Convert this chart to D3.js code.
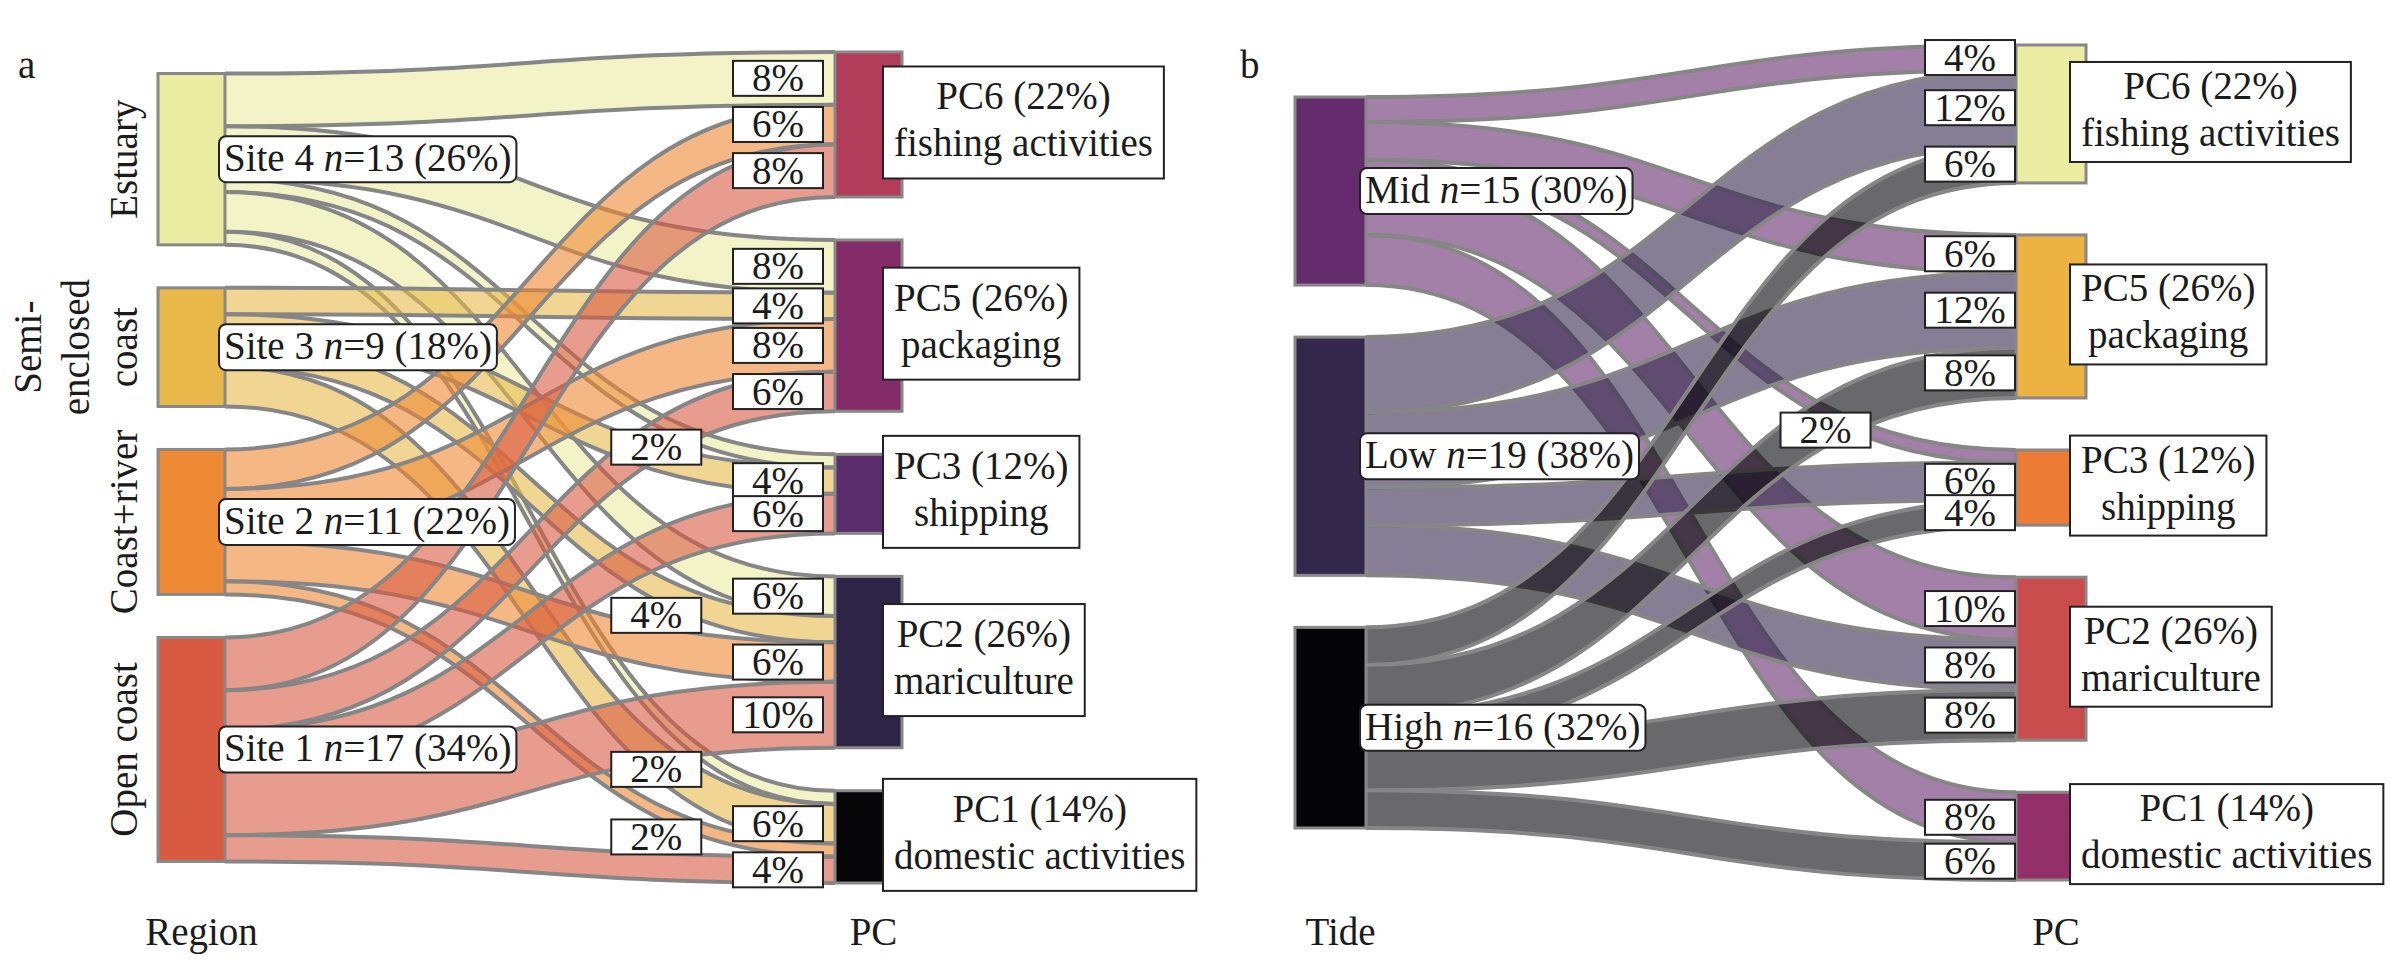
<!DOCTYPE html>
<html>
<head>
<meta charset="utf-8">
<script src="https://cdn.jsdelivr.net/npm/d3@7"></script>
<style>
    body { margin: 0; background: #fff; }
    svg text { font-family: "Liberation Serif", "DejaVu Serif", "Noto Serif", serif; font-size: 39px; fill: #1b1b1b; }
</style>
</head>
<body>
<script>
// ---- data (percent of all 50 samples) ----
const regionLines = [["Estuary"], ["Semi-", "enclosed", "coast"], ["Coast+river"], ["Open coast"]];
const siteNames = ["Site 4", "Site 3", "Site 2", "Site 1"];
const siteN = [13, 9, 11, 17];
const tideNames = ["Mid", "Low", "High"];
const tideN = [15, 19, 16];
const pcNames = ["PC6", "PC5", "PC3", "PC2", "PC1"];
const pcSources = ["fishing activities", "packaging", "shipping", "mariculture", "domestic activities"];

// rows = site (4,3,2,1), cols = PC6, PC5, PC3, PC2, PC1
const siteToPc = [
    [8, 8, 2, 6, 2],
    [0, 4, 4, 4, 6],
    [6, 8, 0, 6, 2],
    [8, 6, 6, 10, 4]
];
// rows = Mid, Low, High
const tideToPc = [
    [4, 6, 2, 10, 8],
    [12, 12, 6, 8, 0],
    [6, 8, 4, 8, 6]
];

const siteColors = ["#e9eca1", "#e8b94a", "#ee8934", "#d85a41"];
const pcColorsA = ["#b23d5b", "#842b6a", "#5b2d6c", "#2e2446", "#060508"];
const tideColors = ["#652c6d", "#33284c", "#050407"];
const pcColorsB = ["#ebeea2", "#ecb242", "#ec7b35", "#c94d4c", "#932f69"];

const W = 2390, H = 964;
const lineGap = 48;
const serif = "'Liberation Serif', 'DejaVu Serif', 'Noto Serif', serif";

var svg = d3.select("body").append("svg")
    .attr("width", W)
    .attr("height", H)
    .attr("font-family", serif)
    .attr("font-size", 39);

function drawPanel(p) {
    let g = svg.append("g");
    let y = d3.scaleLinear().domain([0, 100]).range([0, p.span]);

    let srcVals = p.matrix.map(r => d3.sum(r));
    let tgtVals = pcNames.map((_, j) => d3.sum(p.matrix, r => r[j]));

    // stack a column of nodes around the panel centre
    let stack = function (vals) {
        let cur = p.center - (d3.sum(vals, y) + p.pad * (vals.length - 1)) / 2;
        return vals.map((v, i) => {
            let n = {i: i, v: v, y0: cur, y1: cur + y(v)};
            cur = n.y1 + p.pad;
            return n;
        });
    };
    let L = stack(srcVals), R = stack(tgtVals);

    let links = [];
    p.matrix.forEach((row, i) => row.forEach((v, j) => {
        if (v > 0) links.push({s: i, t: j, v: v});
    }));
    L.forEach(n => {
        let c = n.y0;
        links.filter(l => l.s === n.i).forEach(l => { l.sy0 = c; c += y(l.v); l.sy1 = c; });
    });
    R.forEach(n => {
        let c = n.y0;
        links.filter(l => l.t === n.i).forEach(l => { l.ty0 = c; c += y(l.v); l.ty1 = c; });
    });

    let edge = d3.linkHorizontal();
    let band = function (l) {
        let top = edge({source: [p.lx1, l.sy0], target: [p.rx0, l.ty0]});
        let bottom = edge({source: [p.rx0, l.ty1], target: [p.lx1, l.sy1]}).replace(/^M[^C]*/, "");
        return top + "L" + p.rx0 + "," + l.ty1 + bottom + "Z";
    };

    // links
    let lg = g.selectAll(".link").data(links).enter().append("g").attr("class", "link");
    lg.append("path")
        .attr("d", band)
        .attr("fill", d => p.leftColors[d.s])
        .attr("fill-opacity", 0.6)
        .attr("stroke", "none");
    lg.append("path")
        .attr("d", d => edge({source: [p.lx1, d.sy0], target: [p.rx0, d.ty0]}))
        .attr("fill", "none").attr("stroke", "#868686").attr("stroke-width", 4);
    lg.append("path")
        .attr("d", d => edge({source: [p.lx1, d.sy1], target: [p.rx0, d.ty1]}))
        .attr("fill", "none").attr("stroke", "#868686").attr("stroke-width", 4);

    // nodes
    g.selectAll(".lnode").data(L).enter().append("rect")
        .attr("x", p.lx0).attr("y", d => d.y0)
        .attr("width", p.lx1 - p.lx0).attr("height", d => d.y1 - d.y0)
        .attr("fill", d => p.leftColors[d.i])
        .attr("stroke", "#888").attr("stroke-width", 3);
    g.selectAll(".rnode").data(R).enter().append("rect")
        .attr("x", p.rx0).attr("y", d => d.y0)
        .attr("width", p.rx1 - p.rx0).attr("height", d => d.y1 - d.y0)
        .attr("fill", d => p.rightColors[d.i])
        .attr("stroke", "#888").attr("stroke-width", 3);

    // link percentage boxes: thin links, or links squeezed on both sides, get moved out
    let boxH = 35, boxW = 90;
    R.forEach(n => {
        let inc = links.filter(l => l.t === n.i);
        inc.forEach(l => { l.yc = (l.ty0 + l.ty1) / 2; l.out = (l.ty1 - l.ty0) < boxH * 0.4; });
        let kept = inc.filter(l => !l.out);
        let hit = (a, b) => b && Math.abs(a.yc - b.yc) < boxH;
        kept.forEach((l, i) => {
            if (hit(l, kept[i - 1]) && hit(l, kept[i + 1])) l.out = true;
        });
    });
    links.forEach(l => {
        if (l.out) {
            let ysrc = (l.sy0 + l.sy1) / 2;
            l.bx = p.lx1 + 0.707 * (p.rx0 - p.lx1) - boxW / 2;
            l.by = l.yc - p.outLift * (l.yc - ysrc);
        } else {
            l.bx = p.rx0 - p.labelGap - boxW;
            l.by = l.yc;
        }
    });
    let lab = g.selectAll(".plab").data(links).enter().append("g");
    lab.append("rect")
        .attr("x", d => d.bx).attr("y", d => d.by - boxH / 2)
        .attr("width", boxW).attr("height", boxH)
        .attr("fill", "#fff").attr("stroke", "#222").attr("stroke-width", 2);
    lab.append("text")
        .attr("x", d => d.bx + boxW / 2).attr("y", d => d.by + 13)
        .attr("text-anchor", "middle")
        .attr("font-size", 38)
        .text(d => d.v + "%");

    // left node labels
    L.forEach(n => {
        let cy = (n.y0 + n.y1) / 2;
        let bg = g.append("g");
        let r = bg.append("rect")
            .attr("x", p.lx1 - 6).attr("y", cy - 23)
            .attr("height", 46).attr("rx", 7)
            .attr("fill", "#fff").attr("stroke", "#222").attr("stroke-width", 2);
        let t = bg.append("text").attr("x", p.lx1 - 1).attr("y", cy + 12);
        t.append("tspan").text(p.leftNames[n.i] + " ");
        t.append("tspan").attr("font-style", "italic").text("n");
        t.append("tspan").text("=" + p.leftN[n.i] + " (" + n.v + "%)");
        r.attr("width", t.node().getComputedTextLength() + 10);
    });

    // right node labels
    R.forEach(n => {
        let cy = (n.y0 + n.y1) / 2 - 2;
        let bg = g.append("g");
        let r = bg.append("rect")
            .attr("y", cy - p.pcBoxH / 2).attr("height", p.pcBoxH)
            .attr("fill", "#fff").attr("stroke", "#222").attr("stroke-width", 2);
        let t = bg.append("text").attr("text-anchor", "middle");
        t.append("tspan").attr("y", cy - 13).text(pcNames[n.i] + " (" + n.v + "%)");
        t.append("tspan").attr("y", cy + 34).text(pcSources[n.i]);
        let w = d3.max(t.selectAll("tspan").nodes(), s => s.getComputedTextLength()) + 22;
        let bx = p.rx0 + p.pcBoxDx;
        r.attr("x", bx).attr("width", w);
        t.selectAll("tspan").attr("x", bx + w / 2);
    });

    // panel letter and column titles
    g.append("text").attr("x", p.tagX).attr("y", 78).text(p.tag);
    g.append("text").attr("x", (p.lx0 + p.lx1) / 2 + 10).attr("y", 945)
        .attr("text-anchor", "middle").text(p.leftTitle);
    g.append("text").attr("x", (p.rx0 + p.rx1) / 2 + 5).attr("y", 945)
        .attr("text-anchor", "middle").text("PC");

    return L;
}

let La = drawPanel({
    matrix: siteToPc, leftNames: siteNames, leftN: siteN,
    leftColors: siteColors, rightColors: pcColorsA,
    lx0: 158, lx1: 225, rx0: 835, rx1: 902,
    center: 467.5, span: 659, pad: 43,
    labelGap: 12, pcBoxDx: 48, pcBoxH: 112, outLift: 0.05,
    tag: "a", tagX: 18, leftTitle: "Region"
});

drawPanel({
    matrix: tideToPc, leftNames: tideNames, leftN: tideN,
    leftColors: tideColors, rightColors: pcColorsB,
    lx0: 1295, lx1: 1366, rx0: 2016, rx1: 2086,
    center: 462.5, span: 627, pad: 52,
    labelGap: 1, pcBoxDx: 54, pcBoxH: 100, outLift: 0.09,
    tag: "b", tagX: 1240, leftTitle: "Tide"
});

// rotated region names beside panel a
La.forEach(n => {
    let cy = (n.y0 + n.y1) / 2;
    let lines = regionLines[n.i];
    lines.forEach((s, i) => {
        let x = 137 - (lines.length - 1 - i) * lineGap;
        svg.append("text")
            .attr("transform", "translate(" + x + "," + cy + ") rotate(-90)")
            .attr("text-anchor", "middle")
            .text(s);
    });
});
</script>
</body>
</html>
